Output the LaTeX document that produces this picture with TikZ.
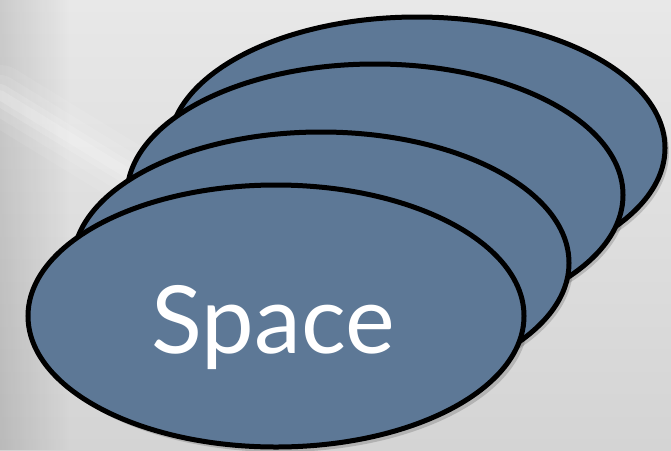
\documentclass[tikz,border=0pt]{standalone}
\usepackage{fontspec}
\setmainfont{Lato}
\usetikzlibrary{shapes.geometric,fadings}
\definecolor{diskfill}{RGB}{93,120,150}
\definecolor{bgtop}{RGB}{232,232,232}
\definecolor{bgbot}{RGB}{212,212,212}
\tikzset{
  disk/.style={ellipse, draw=black, line width=5pt, fill=diskfill,
    minimum width=496pt, minimum height=262pt, inner sep=0pt},
  diskshadow/.style={ellipse, fill=black, opacity=0.16,
    minimum width=496pt, minimum height=262pt, inner sep=0pt},
  label/.style={font=\fontsize{94}{100}\selectfont, text=white, inner sep=0pt, anchor=base}
}
\begin{document}
\begin{tikzpicture}[x=1pt,y=-1pt]
\useasboundingbox (0,0) rectangle (671,450);
% background
\shade[top color=bgtop, bottom color=bgbot] (0,0) rectangle (671,450);
\fill[black, opacity=0.12, path fading=east] (0,0) rectangle (70,450);
\foreach \w/\o in {60/0.08,40/0.1,22/0.14,10/0.16}{
  \draw[white, line width=\w pt, opacity=\o, line cap=round] (0,95) -- (245,245);
}
% shadows
\node[diskshadow] at (421,152) {};
\node[diskshadow] at (379,199) {};
\node[diskshadow] at (325,267) {};
\node[diskshadow] at (280,321) {};
% disks
\node[disk] (e1) at (417,148) {};
\node[disk] (e2) at (375,195) {};
\node[disk] (e3) at (321,263) {};
\node[disk] (e4) at (276,316) {};
% label
\node[label] (t) at (273,353) {Space};
\end{tikzpicture}
\end{document}
